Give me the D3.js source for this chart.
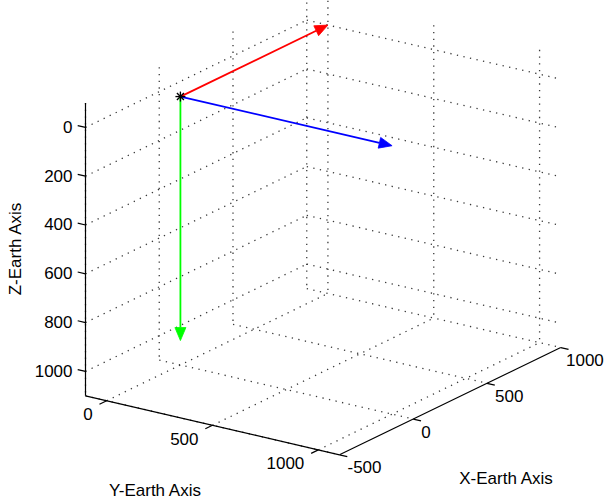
<!DOCTYPE html>
<html>
<head>
<meta charset="utf-8">
<script src="https://cdn.jsdelivr.net/npm/d3@7"></script>
<style>
  html, body { margin: 0; padding: 0; background: #fff; }
  svg { display: block; }
  text { font-family: "Liberation Sans", Arial, Helvetica, sans-serif; fill: #000; }
</style>
</head>
<body>
<svg id="chart" width="605" height="502"></svg>
<script>
// Axis limits and ticks (Z direction is reversed: 0 at the top)
const xLim = [-500, 1000];
const yLim = [-100, 1100];
const zLim = [-100, 1100];
const xTicks = [-500, 0, 500, 1000];
const yTicks = [0, 500, 1000];
const zTicks = [0, 200, 400, 600, 800, 1000];

// Frame origin and the three axis vectors drawn from it
const origin = [0, 0, 0];
const vecX = [1000, 0, 0];
const vecY = [0, 1000, 0];
const vecZ = [0, 0, 1000];
const vecColors = ["#ff0000", "#0000ff", "#00ff00"];

const axisLabels = ["X-Earth Axis", "Y-Earth Axis", "Z-Earth Axis"];

const svg = d3.select("#chart");

// Orthographic projection: each data axis maps to a fraction of its box edge,
// and each edge has a fixed on-screen direction vector.
const fx = d3.scaleLinear().domain(xLim).range([0, 1]);
const fy = d3.scaleLinear().domain(yLim).range([0, 1]);
const fz = d3.scaleLinear().domain(zLim).range([0, 1]);
const corner = [85.5, 103];          // screen point of (xMin, yMin, zMin)
const edgeX = [221.25, -107.25];     // screen span of the x range
const edgeY = [254.0, 59.0];         // screen span of the y range
const edgeZ = [0, 292.8];            // screen span of the z range (downwards)

function proj(p) {
  const a = fx(p[0]), b = fy(p[1]), c = fz(p[2]);
  return [
    corner[0] + a * edgeX[0] + b * edgeY[0] + c * edgeZ[0],
    corner[1] + a * edgeX[1] + b * edgeY[1] + c * edgeZ[1]
  ];
}
function unit(v) { const l = Math.hypot(v[0], v[1]); return [v[0] / l, v[1] / l]; }

const [x0, x1] = xLim, [y0, y1] = yLim, [z0, z1] = zLim;

// Grid lines on the three back planes
const grid = [];
xTicks.forEach(x => grid.push([[x, y0, z0], [x, y0, z1]]));   // back wall, vertical
zTicks.forEach(z => grid.push([[x0, y0, z], [x1, y0, z]]));   // back wall, along x
yTicks.forEach(y => grid.push([[x1, y, z0], [x1, y, z1]]));   // side wall, vertical
zTicks.forEach(z => grid.push([[x1, y0, z], [x1, y1, z]]));   // side wall, along y
xTicks.forEach(x => grid.push([[x, y0, z1], [x, y1, z1]]));   // floor, along y
yTicks.forEach(y => grid.push([[x0, y, z1], [x1, y, z1]]));   // floor, along x

const line = d3.line();

svg.append("g").attr("class", "grid")
  .selectAll("path").data(grid).join("path")
  .attr("d", s => line(s.map(proj)))
  .attr("fill", "none")
  .attr("stroke", "#3a3a3a")
  .attr("stroke-width", 1.3)
  .attr("stroke-dasharray", "1.3 5.4");

// Axis lines
const axes = [
  [[x0, y1, z1], [x1, y1, z1]],   // X axis (front bottom edge)
  [[x0, y0, z1], [x0, y1, z1]],   // Y axis (left bottom edge)
  [[x0, y0, z0], [x0, y0, z1]]    // Z axis (vertical)
];
const gAxes = svg.append("g").attr("class", "axes");
gAxes.selectAll("path").data(axes).join("path")
  .attr("d", s => line(s.map(proj)))
  .attr("fill", "none").attr("stroke", "#000").attr("stroke-width", 1.2);

// Tick marks point outwards from the box
const tickLen = 8;
const dirX = unit(edgeX), dirY = unit(edgeY);
const tickSpecs = [];
xTicks.forEach(v => tickSpecs.push({ p: proj([v, y1, z1]), d: dirY, label: v, axis: "x" }));
yTicks.forEach(v => tickSpecs.push({ p: proj([x0, v, z1]), d: [-dirX[0], -dirX[1]], label: v, axis: "y" }));
zTicks.forEach(v => tickSpecs.push({ p: proj([x0, y0, v]), d: [-dirY[0], -dirY[1]], label: v, axis: "z" }));

gAxes.selectAll("line.tick").data(tickSpecs).join("line")
  .attr("class", "tick")
  .attr("x1", t => t.p[0]).attr("y1", t => t.p[1])
  .attr("x2", t => t.p[0] + t.d[0] * tickLen).attr("y2", t => t.p[1] + t.d[1] * tickLen)
  .attr("stroke", "#000").attr("stroke-width", 1.2);

const fontSize = 17;
gAxes.selectAll("text.tl").data(tickSpecs).join("text")
  .attr("class", "tl")
  .attr("font-size", fontSize)
  .attr("dominant-baseline", "middle")
  .attr("text-anchor", t => t.axis === "x" ? "start" : "end")
  .attr("x", t => t.axis === "x" ? Math.min(t.p[0] + 8, 566) : t.axis === "y" ? t.p[0] - 14 : t.p[0] - 13)
  .attr("y", t => t.axis === "x" ? t.p[1] + 14 : t.axis === "y" ? t.p[1] + 15 : t.p[1] + 1)
  .text(t => String(t.label));

// Axis titles
svg.append("text").attr("font-size", fontSize).attr("text-anchor", "middle")
  .attr("x", 506).attr("y", 484).text(axisLabels[0]);
svg.append("text").attr("font-size", fontSize).attr("text-anchor", "middle")
  .attr("x", 155).attr("y", 496).text(axisLabels[1]);
svg.append("text").attr("font-size", fontSize).attr("text-anchor", "middle")
  .attr("transform", "translate(21,249) rotate(-90)").text(axisLabels[2]);

// Frame vectors with arrowheads
const headLen = 13, headHalf = 5.5;
const vectors = [vecX, vecY, vecZ].map((v, i) => ({
  from: proj(origin),
  to: proj([origin[0] + v[0], origin[1] + v[1], origin[2] + v[2]]),
  color: vecColors[i]
}));
const gVec = svg.append("g").attr("class", "vectors");
vectors.forEach(v => {
  const d = unit([v.to[0] - v.from[0], v.to[1] - v.from[1]]);
  const n = [-d[1], d[0]];
  const base = [v.to[0] - d[0] * headLen, v.to[1] - d[1] * headLen];
  gVec.append("line")
    .attr("x1", v.from[0]).attr("y1", v.from[1])
    .attr("x2", base[0]).attr("y2", base[1])
    .attr("stroke", v.color).attr("stroke-width", 1.8);
  gVec.append("path")
    .attr("d", line([
      v.to,
      [base[0] + n[0] * headHalf, base[1] + n[1] * headHalf],
      [base[0] - n[0] * headHalf, base[1] - n[1] * headHalf]
    ]) + "Z")
    .attr("fill", v.color).attr("stroke", v.color).attr("stroke-width", 0.8);
});

// Star marker at the origin
const o = proj(origin);
const star = svg.append("g").attr("class", "origin-marker")
  .attr("transform", `translate(${o[0]},${o[1]})`);
const r = 5;
[[-r, 0, r, 0], [0, -r, 0, r], [-r * 0.7, -r * 0.7, r * 0.7, r * 0.7], [-r * 0.7, r * 0.7, r * 0.7, -r * 0.7]]
  .forEach(s => star.append("line")
    .attr("x1", s[0]).attr("y1", s[1]).attr("x2", s[2]).attr("y2", s[3])
    .attr("stroke", "#000").attr("stroke-width", 1.3));
</script>
</body>
</html>
